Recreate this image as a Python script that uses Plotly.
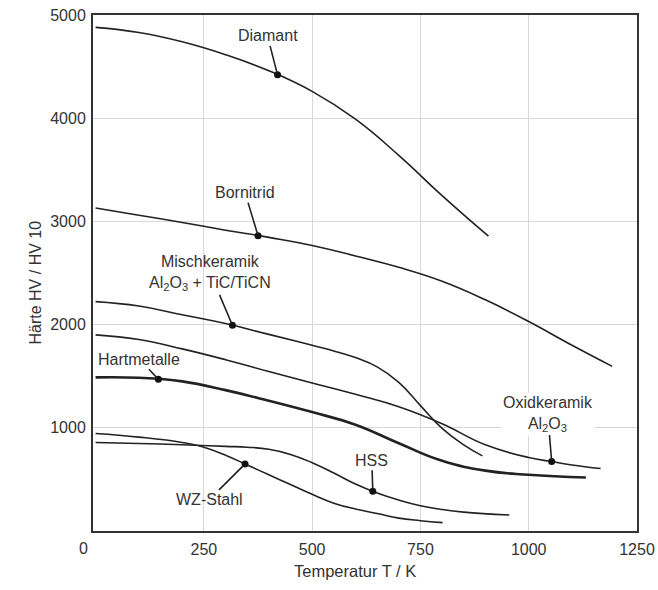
import plotly.graph_objects as go

# ---- data ----
diamant_T = [0, 100, 200, 300, 400, 500, 600, 700, 800, 907]
diamant_HV = [4880, 4830, 4740, 4615, 4460, 4260, 3990, 3640, 3250, 2857]

bornitrid_T = [0, 100, 200, 300, 400, 500, 600, 700, 800, 900, 1000, 1100, 1193]
bornitrid_HV = [3130, 3060, 2990, 2915, 2845, 2767, 2665, 2555, 2420, 2240, 2030, 1800, 1595]

misch_T = [0, 100, 200, 300, 400, 500, 550, 600, 650, 700, 750, 800, 850, 893]
misch_HV = [2223, 2180, 2095, 2010, 1905, 1800, 1745, 1680, 1590, 1440, 1215, 995, 835, 728]

oxid_T = [0, 100, 200, 300, 400, 500, 600, 700, 800, 900, 1000, 1053, 1100, 1166]
oxid_HV = [1900, 1855, 1765, 1660, 1545, 1435, 1325, 1205, 1040, 835, 712, 673, 640, 605]

hart_T = [0, 100, 200, 300, 400, 500, 600, 700, 800, 900, 1000, 1132]
hart_HV = [1489, 1485, 1450, 1365, 1262, 1152, 1030, 850, 680, 585, 545, 518]

hss_T = [0, 100, 200, 300, 350, 400, 450, 500, 550, 600, 650, 700, 750, 800, 850, 955]
hss_HV = [857, 848, 836, 820, 812, 792, 742, 662, 562, 455, 368, 300, 245, 208, 183, 155]

wz_T = [0, 100, 200, 250, 300, 350, 400, 450, 500, 550, 600, 650, 700, 750, 801]
wz_HV = [945, 910, 858, 812, 735, 640, 545, 450, 355, 270, 213, 170, 125, 100, 81]

labels = ["Diamant", "Bornitrid", "Mischkeramik<br>Al<sub>2</sub>O<sub>3</sub> + TiC/TiCN",
          "Hartmetalle", "WZ-Stahl", "HSS", "Oxidkeramik<br>Al<sub>2</sub>O<sub>3</sub>"]
marker_T = [420, 375, 316, 145, 345, 640, 1053]
marker_HV = [4420, 2862, 1993, 1470, 650, 385, 673]

x_ticks = [250, 500, 750, 1000, 1250]
y_ticks = [1000, 2000, 3000, 4000, 5000]

# ---- figure ----
FONT = "Liberation Sans, Arial, sans-serif"
TXT = "#333333"
LINE = "#222222"

fig = go.Figure()
series = [
    (diamant_T, diamant_HV, 1.6),
    (bornitrid_T, bornitrid_HV, 1.6),
    (misch_T, misch_HV, 1.6),
    (oxid_T, oxid_HV, 1.6),
    (hart_T, hart_HV, 2.6),
    (hss_T, hss_HV, 1.6),
    (wz_T, wz_HV, 1.6),
]
for xs, ys, w in series:
    fig.add_trace(go.Scatter(x=xs, y=ys, mode="lines",
                             line=dict(color=LINE, width=w, shape="spline", smoothing=1.3),
                             showlegend=False, hoverinfo="skip"))

fig.add_trace(go.Scatter(x=marker_T, y=marker_HV, mode="markers",
                         marker=dict(color="#111111", size=7),
                         showlegend=False, hoverinfo="skip"))

offsets = [(-10, -39), (-13, -43), (-22, -52), (-19, -20), (-36, 36), (-1, -31), (-4, -48)]
for lab, mx, my, (ax, ay) in zip(labels, marker_T, marker_HV, offsets):
    is_oxid = lab.startswith("Oxid")
    fig.add_annotation(x=mx, y=my, xref="x", yref="y", text=lab,
                       ax=ax, ay=ay, showarrow=True, arrowhead=0, arrowwidth=1.6,
                       arrowcolor=LINE, standoff=2,
                       font=dict(family=FONT, size=16, color=TXT),
                       bgcolor="white" if is_oxid else "rgba(0,0,0,0)",
                       borderpad=1)

# "0" at the origin corner
fig.add_annotation(x=0, y=0, xref="x", yref="y", text="0", showarrow=False,
                   xshift=-12, yshift=-17, font=dict(family=FONT, size=16, color=TXT))

W, H = 658, 590
L, R, T, B = 93, 21, 15, 59
PW, PH = W - L - R, H - T - B

# axis titles (pixel positions converted to paper coordinates)
fig.add_annotation(x=(355 - L) / PW, y=1 - (582 - T) / PH, xref="paper", yref="paper",
                   text="Temperatur T / K", showarrow=False,
                   font=dict(family=FONT, size=16.5, color=TXT))
fig.add_annotation(x=(24 - L) / PW, y=1 - (283 - T) / PH, xref="paper", yref="paper",
                   text="Härte HV / HV 10", textangle=-90, showarrow=False,
                   font=dict(family=FONT, size=16, color=TXT))

fig.update_layout(
    width=W, height=H,
    margin=dict(l=L, r=R, t=T, b=B, autoexpand=False),
    paper_bgcolor="white", plot_bgcolor="white",
    font=dict(family=FONT, size=16, color=TXT),
    xaxis=dict(range=[-6, 1250], tickvals=x_ticks, showgrid=True, gridcolor="#d8d8d8",
               gridwidth=1, zeroline=False, showline=True, mirror=True, automargin=False,
               linecolor="#333333", linewidth=2, ticks="", ticklabelstandoff=3,
               tickfont=dict(family=FONT, size=16, color=TXT)),
    yaxis=dict(range=[0, 5000], tickvals=y_ticks, showgrid=True, gridcolor="#d8d8d8",
               gridwidth=1, zeroline=False, showline=True, mirror=True, automargin=False,
               linecolor="#333333", linewidth=2, ticks="", ticklabelstandoff=2,
               tickfont=dict(family=FONT, size=16, color=TXT)),
)

fig.write_html("out.html")
